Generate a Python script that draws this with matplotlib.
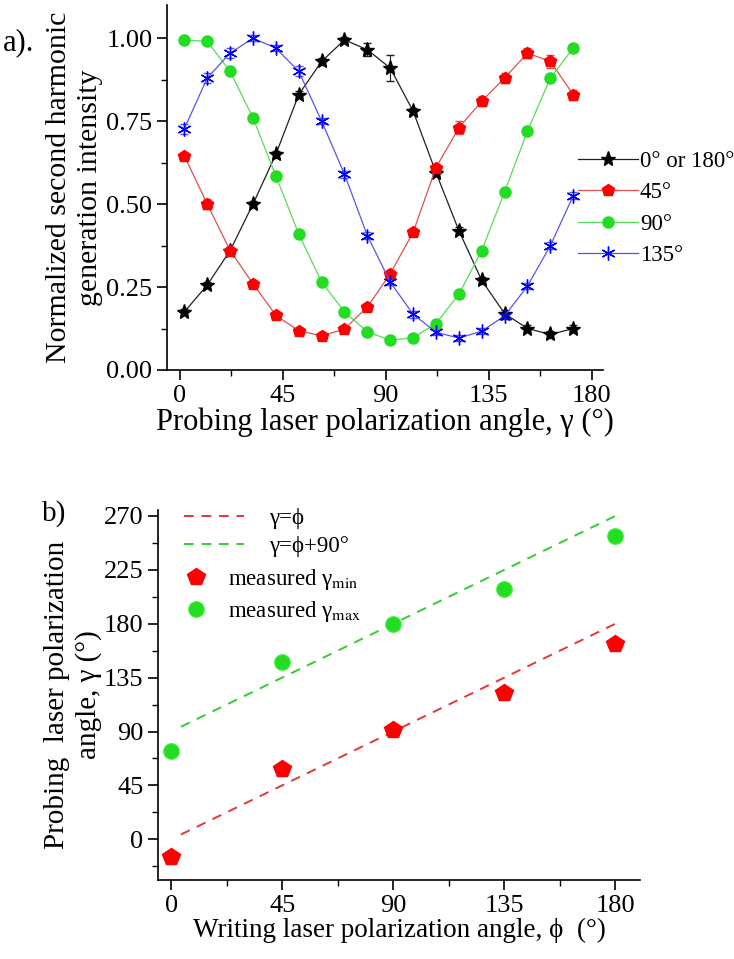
import numpy as np
import matplotlib
matplotlib.use('Agg')
from matplotlib import pyplot as plt
from matplotlib.ticker import MultipleLocator
from matplotlib.lines import Line2D

plt.rcParams['font.family'] = ['Liberation Serif', 'DejaVu Serif']
plt.rcParams['mathtext.fontset'] = 'stix'

# panel a: SHG intensity vs probing angle, one curve per writing angle
gamma = [2, 12, 22, 32, 42, 52, 62, 72, 82, 92, 102, 112, 122, 132, 142, 152, 162, 172]
shg_0 = [0.175, 0.256, 0.36, 0.50, 0.65, 0.83, 0.93, 0.995, 0.965, 0.91, 0.78, 0.595,
         0.42, 0.27, 0.17, 0.125, 0.107, 0.125]
err_0 = [0.01, 0.01, 0.01, 0.01, 0.01, 0.01, 0.01, 0.01, 0.02, 0.04, 0.01, 0.01,
         0.01, 0.01, 0.01, 0.01, 0.01, 0.01]
shg_45 = [0.645, 0.50, 0.36, 0.26, 0.165, 0.118, 0.103, 0.123, 0.19, 0.29, 0.415, 0.61,
          0.73, 0.81, 0.88, 0.955, 0.93, 0.83]
err_45 = [0.01, 0.015, 0.01, 0.01, 0.01, 0.01, 0.01, 0.01, 0.01, 0.01, 0.01, 0.01,
          0.02, 0.015, 0.015, 0.015, 0.02, 0.015]
shg_90 = [0.995, 0.99, 0.90, 0.76, 0.585, 0.41, 0.265, 0.175, 0.115, 0.09, 0.097, 0.14,
          0.228, 0.36, 0.537, 0.72, 0.88, 0.97]
err_90 = [0.01] * 18
shg_135 = [0.727, 0.88, 0.955, 1.0, 0.97, 0.90, 0.75, 0.59, 0.405, 0.265, 0.168, 0.114,
           0.096, 0.117, 0.163, 0.253, 0.375, 0.525]
err_135 = [0.015, 0.015, 0.015, 0.01, 0.01, 0.015, 0.01, 0.01, 0.01, 0.01, 0.01, 0.01,
           0.01, 0.01, 0.01, 0.01, 0.01, 0.01]
labels_a = ['0\u00b0 or 180\u00b0', '45\u00b0', '90\u00b0', '135\u00b0']

# panel b: measured min/max positions vs writing angle
phi = [0, 45, 90, 135, 180]
gamma_min = [-15, 59, 91, 122, 163]
gamma_max = [74, 148, 180, 209, 253]
phi_line = [4, 180]

fig = plt.figure(figsize=(7.34, 9.59), dpi=100)

ax1 = fig.add_axes([0.2275, 0.6142, 0.594, 0.3806])
series = [
    (shg_0, err_0, '#202020', 'black', '*', 11, labels_a[0]),
    (shg_45, err_45, '#e05050', 'red', 'p', 9, labels_a[1]),
    (shg_90, err_90, '#55dd55', '#22dd22', 'o', 8, labels_a[2]),
    (shg_135, err_135, '#5555ee', 'blue', (6, 2, 0), 10, labels_a[3]),
]
handles = []
for vals, errs, lc, mc, mk, ms, lab in series:
    ax1.errorbar(gamma, vals, yerr=errs, color=lc, lw=0.9, ecolor=lc, elinewidth=0.8,
                 capsize=3, marker=mk, ms=ms, mfc=mc, mec=mc)
    handles.append(Line2D([], [], color=lc, lw=0.9, marker=mk, ms=ms, mfc=mc, mec=mc))

ax1.set_xlim(-5.6, 185)
ax1.set_ylim(0, 1.1)
ax1.xaxis.set_major_locator(MultipleLocator(45))
ax1.xaxis.set_minor_locator(MultipleLocator(22.5))
ax1.yaxis.set_major_locator(MultipleLocator(0.25))
ax1.yaxis.set_minor_locator(MultipleLocator(0.125))
ax1.yaxis.set_major_formatter(matplotlib.ticker.FormatStrFormatter('%.2f'))
ax1.set_xlabel('Probing laser polarization angle, \u03b3 (\u00b0)', fontsize=22, labelpad=1)
ax1.set_ylabel('Normalized second harmonic\ngeneration intensity', fontsize=21.5, labelpad=2,
               linespacing=1.25)
fig.legend(handles, labels_a, loc='upper left', bbox_to_anchor=(0.775, 0.852),
           frameon=False, fontsize=16.5, handlelength=2.6, handletextpad=0.1,
           labelspacing=0.45, borderaxespad=0)
fig.text(0.004, 0.948, 'a).', fontsize=22, va='baseline')

ax2 = fig.add_axes([0.2153, 0.0824, 0.6567, 0.3858])
ax2.plot(phi_line, phi_line, ls='--', color='#e8343a', lw=1.4, dashes=(5, 4))
ax2.plot(phi_line, [p + 90 for p in phi_line], ls='--', color='#33cc33', lw=1.4, dashes=(5, 4))
ax2.plot(phi, gamma_min, ls='none', marker='p', ms=13, color='red', mec='red')
ax2.plot(phi, gamma_max, ls='none', marker='o', ms=11, color='#22dd22', mec='#33ee33')
ax2.set_xlim(-5.3, 190)
ax2.set_ylim(-34, 275)
ax2.xaxis.set_major_locator(MultipleLocator(45))
ax2.xaxis.set_minor_locator(MultipleLocator(22.5))
ax2.yaxis.set_major_locator(MultipleLocator(45))
ax2.yaxis.set_minor_locator(MultipleLocator(22.5))
ax2.set_xlabel('Writing laser polarization angle, \u03d5  (\u00b0)', fontsize=19.5, labelpad=1)
ax2.set_ylabel('Probing  laser polarization\nangle, \u03b3 (\u00b0)', fontsize=21, labelpad=1,
               linespacing=1.25)
line_h = [Line2D([], [], ls='--', color='#e8343a', lw=1.4, dashes=(5, 4)),
          Line2D([], [], ls='--', color='#33cc33', lw=1.4, dashes=(5, 4))]
leg1 = ax2.legend(line_h, ['\u03b3=\u03d5', '\u03b3=\u03d5+90\u00b0'], loc='upper left',
                  bbox_to_anchor=(0.035, 1.03), frameon=False, fontsize=16.5,
                  handlelength=2.6, handletextpad=1.1, labelspacing=0.3, borderaxespad=0)
ax2.add_artist(leg1)
mark_h = [Line2D([], [], ls='none', marker='p', ms=13, color='red'),
          Line2D([], [], ls='none', marker='o', ms=11, color='#22dd22', mec='#33ee33')]
ax2.legend(mark_h, ['measured \u03b3$_{\\rm min}$', 'measured \u03b3$_{\\rm max}$'],
           loc='upper left', bbox_to_anchor=(0.035, 0.87), frameon=False, fontsize=16.5,
           handlelength=1.0, handletextpad=0.9, labelspacing=0.3, borderaxespad=0)
fig.text(0.057, 0.457, 'b)', fontsize=21, va='baseline')

for ax in (ax1, ax2):
    ax.spines['top'].set_visible(False)
    ax.spines['right'].set_visible(False)
    ax.tick_params(which='major', direction='out', length=7, width=1.2, labelsize=19)
    ax.tick_params(which='minor', direction='out', length=4, width=1.0)
    for s in ('left', 'bottom'):
        ax.spines[s].set_linewidth(1.2)

plt.savefig('out.png', dpi=100)
